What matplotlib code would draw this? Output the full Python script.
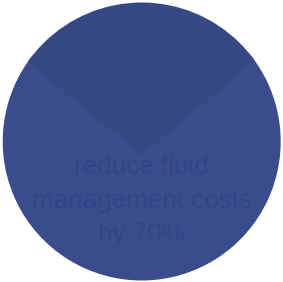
import matplotlib
matplotlib.use("Agg")
import matplotlib.pyplot as plt
from matplotlib.patches import Circle

labels = ["other", "reduced"]
values = [28, 72]
colors = ["#374985", "#3b4c8c"]
caption = "reduce fluid\nmanagement costs\nby 70%"

fig = plt.figure(figsize=(2.83, 2.82), dpi=100)
ax = fig.add_axes([0, 0, 1, 1])
wedges, _ = ax.pie(values, colors=colors, startangle=40, counterclock=True,
                   radius=1.0, wedgeprops=dict(linewidth=0))
ax.set_xlim(-141.7 / 139, (283 - 141.7) / 139)
ax.set_ylim(-140.5 / 139, 141.5 / 139)
ax.set_aspect("auto")
ax.axis("off")

clip = Circle((0, 0), 1.0, fill=False, linewidth=0)
ax.add_patch(clip)
small = wedges[0]
small.set_center((0, -0.1))
small.set_radius(1.3)
small.set_zorder(3)
small.set_clip_on(True)
small.set_clip_path(clip)

ax.text(0, -0.425, caption, ha="center", va="center", fontsize=18.7,
        color="#34448a", family="Liberation Sans", linespacing=1.5,
        zorder=5)

fig.savefig("out.png", dpi=100)
